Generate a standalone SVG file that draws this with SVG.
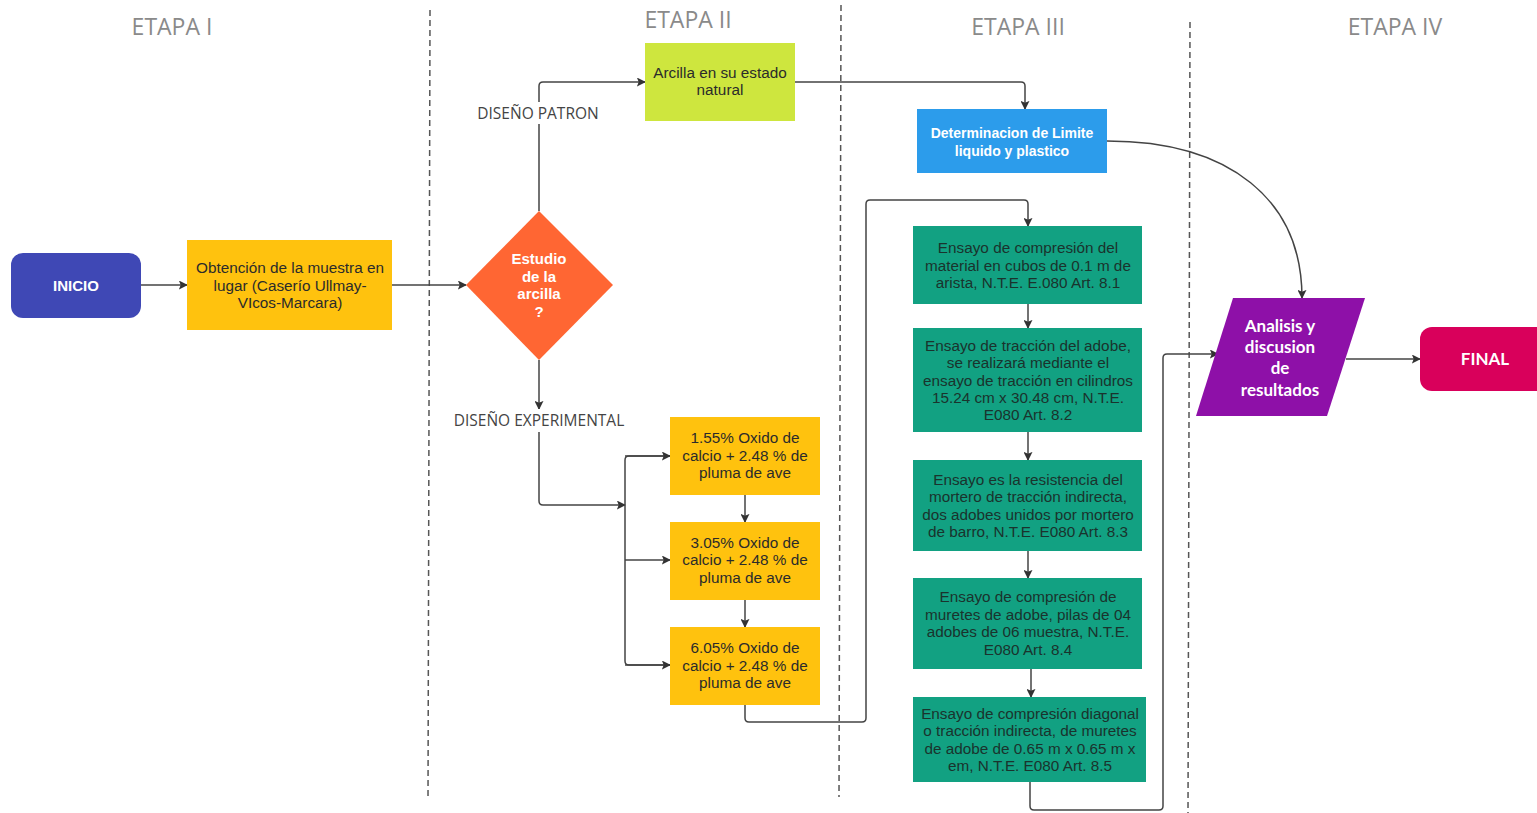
<svg xmlns="http://www.w3.org/2000/svg" width="1537" height="813" viewBox="0 0 1537 813">
<defs>
<marker id="arr" viewBox="0 0 10 10" refX="9" refY="5" markerWidth="9" markerHeight="9" markerUnits="userSpaceOnUse" orient="auto">
<path d="M0,0 L10,5 L0,10 L2,5 Z" fill="#333"/>
</marker>
<style>
.stage{font-family:"Open Sans","Liberation Sans",sans-serif;font-size:23px;fill:#8a8a8a;text-anchor:middle}
.lbl{font-family:"Open Sans","Liberation Sans",sans-serif;font-size:15.5px;fill:#444;text-anchor:middle}
.t{font-family:"Liberation Sans",Arial,sans-serif;font-size:15.3px;fill:#2b2b2b;text-anchor:middle}
.tg{font-family:"Liberation Sans",Arial,sans-serif;font-size:15.3px;fill:#1a332d;text-anchor:middle}
.tw{font-family:"Liberation Sans",Arial,sans-serif;font-size:15px;font-weight:bold;fill:#fff;text-anchor:middle}
.tl{font-family:Lato,"Liberation Sans",sans-serif;font-size:17px;font-weight:bold;fill:#fff;text-anchor:middle}
.div{stroke:#555;stroke-width:1.5;stroke-dasharray:6,4;fill:none}
.c{stroke:#444;stroke-width:1.5;fill:none;stroke-linejoin:round}
.ca{stroke:#444;stroke-width:1.5;fill:none;stroke-linejoin:round;marker-end:url(#arr)}
.yel{fill:#FFC20E}
.grn{fill:#12A182}
</style>
</defs>
<rect width="1537" height="813" fill="#fff"/>
<g id="dividers">
<line class="div" x1="430" y1="10" x2="428" y2="800"/>
<line class="div" x1="841" y1="5" x2="839" y2="797"/>
<line class="div" x1="1190" y1="22" x2="1188" y2="813"/>
</g>
<g id="stages">
<text class="stage" x="172" y="35">ETAPA I</text>
<text class="stage" x="688" y="28">ETAPA II</text>
<text class="stage" x="1018" y="35">ETAPA III</text>
<text class="stage" x="1395" y="35">ETAPA IV</text>
</g>
<g id="connectors">
<line class="ca" x1="141" y1="285" x2="187" y2="285"/>
<line class="ca" x1="392" y1="285" x2="466" y2="285"/>
<path class="ca" d="M539,211 L539,86 Q539,82 543,82 L645,82"/>
<path class="ca" d="M795,82 L1021,82 Q1025,82 1025,86 L1025,109"/>
<path class="ca" d="M1107,141 C1230,141 1302,200 1302,298"/>
<line class="ca" x1="539" y1="360" x2="539" y2="409"/>
<path class="ca" d="M539,432 L539,501 Q539,505 543,505 L625,505"/>
<path class="c" d="M670,456 L629,456 Q625,456 625,460 L625,661 Q625,665 629,665 L670,665"/>
<line class="ca" x1="625" y1="456" x2="670" y2="456"/>
<line class="ca" x1="625" y1="560" x2="670" y2="560"/>
<line class="ca" x1="625" y1="665" x2="670" y2="665"/>
<line class="ca" x1="745" y1="495" x2="745" y2="522"/>
<line class="ca" x1="745" y1="600" x2="745" y2="627"/>
<path class="ca" d="M745,705 L745,718 Q745,722 749,722 L862,722 Q866,722 866,718 L866,204 Q866,200 870,200 L1024,200 Q1028,200 1028,204 L1028,226"/>
<line class="ca" x1="1028" y1="304" x2="1028" y2="328"/>
<line class="ca" x1="1028" y1="432" x2="1028" y2="460"/>
<line class="ca" x1="1028" y1="551" x2="1028" y2="578"/>
<line class="ca" x1="1031" y1="669" x2="1031" y2="697"/>
<path class="ca" d="M1030,782 L1030,806 Q1030,810 1034,810 L1159,810 Q1163,810 1163,806 L1163,358 Q1163,354 1167,354 L1218,354"/>
<line class="ca" x1="1346" y1="359" x2="1420" y2="359"/>
</g>
<g id="lbl-patron">
<rect x="472" y="102" width="132" height="22" fill="#fff"/>
<text class="lbl" x="538" y="119">DISEÑO PATRON</text>
</g>
<g id="lbl-experimental">
<rect x="450" y="409" width="178" height="22" fill="#fff"/>
<text class="lbl" x="539" y="426">DISEÑO EXPERIMENTAL</text>
</g>
<g id="inicio">
<rect x="11" y="253" width="130" height="65" rx="12" fill="#3F48B5"/>
<text class="tw" x="76" y="291">INICIO</text>
</g>
<g id="obtencion">
<rect class="yel" x="187" y="240" width="205" height="90"/>
<text class="t" x="290" y="273">Obtención de la muestra en</text>
<text class="t" x="290" y="291">lugar (Caserío Ullmay-</text>
<text class="t" x="290" y="308">VIcos-Marcara)</text>
</g>
<g id="estudio">
<polygon points="539,211 613,285 539,360 466,285" fill="#FF6633"/>
<text class="tw" x="539" y="264">Estudio</text>
<text class="tw" x="539" y="282">de la</text>
<text class="tw" x="539" y="299">arcilla</text>
<text class="tw" x="539" y="317">?</text>
</g>
<g id="arcilla">
<rect x="645" y="43" width="150" height="78" fill="#CEE63E"/>
<text class="t" x="720" y="78">Arcilla en su estado</text>
<text class="t" x="720" y="95">natural</text>
</g>
<g id="determinacion">
<rect x="917" y="109" width="190" height="64" fill="#2C9CEB"/>
<text class="tw" x="1012" y="138" style="font-size:14px">Determinacion de Limite</text>
<text class="tw" x="1012" y="156" style="font-size:14px">liquido y plastico</text>
</g>
<g id="mezcla1">
<rect class="yel" x="670" y="417" width="150" height="78"/>
<text class="t" x="745" y="443">1.55% Oxido de</text>
<text class="t" x="745" y="461">calcio + 2.48 % de</text>
<text class="t" x="745" y="478">pluma de ave</text>
</g>
<g id="mezcla2">
<rect class="yel" x="670" y="522" width="150" height="78"/>
<text class="t" x="745" y="548">3.05% Oxido de</text>
<text class="t" x="745" y="565">calcio + 2.48 % de</text>
<text class="t" x="745" y="583">pluma de ave</text>
</g>
<g id="mezcla3">
<rect class="yel" x="670" y="627" width="150" height="78"/>
<text class="t" x="745" y="653">6.05% Oxido de</text>
<text class="t" x="745" y="671">calcio + 2.48 % de</text>
<text class="t" x="745" y="688">pluma de ave</text>
</g>
<g id="ensayo1">
<rect class="grn" x="913" y="226" width="229" height="78"/>
<text class="tg" x="1028" y="253">Ensayo de compresión del</text>
<text class="tg" x="1028" y="271">material en cubos de 0.1 m de</text>
<text class="tg" x="1028" y="288">arista, N.T.E. E.080 Art. 8.1</text>
</g>
<g id="ensayo2">
<rect class="grn" x="913" y="328" width="229" height="104"/>
<text class="tg" x="1028" y="351">Ensayo de tracción del adobe,</text>
<text class="tg" x="1028" y="368">se realizará mediante el</text>
<text class="tg" x="1028" y="386">ensayo de tracción en cilindros</text>
<text class="tg" x="1028" y="403">15.24 cm x 30.48 cm, N.T.E.</text>
<text class="tg" x="1028" y="420">E080 Art. 8.2</text>
</g>
<g id="ensayo3">
<rect class="grn" x="913" y="460" width="229" height="91"/>
<text class="tg" x="1028" y="485">Ensayo es la resistencia del</text>
<text class="tg" x="1028" y="502">mortero de tracción indirecta,</text>
<text class="tg" x="1028" y="520">dos adobes unidos por mortero</text>
<text class="tg" x="1028" y="537">de barro, N.T.E. E080 Art. 8.3</text>
</g>
<g id="ensayo4">
<rect class="grn" x="913" y="578" width="229" height="91"/>
<text class="tg" x="1028" y="602">Ensayo de compresión de</text>
<text class="tg" x="1028" y="620">muretes de adobe, pilas de 04</text>
<text class="tg" x="1028" y="637">adobes de 06 muestra, N.T.E.</text>
<text class="tg" x="1028" y="655">E080 Art. 8.4</text>
</g>
<g id="ensayo5">
<rect class="grn" x="913" y="697" width="233" height="85"/>
<text class="tg" x="1030" y="719">Ensayo de compresión diagonal</text>
<text class="tg" x="1030" y="736">o tracción indirecta, de muretes</text>
<text class="tg" x="1030" y="754">de adobe de 0.65 m x 0.65 m x</text>
<text class="tg" x="1030" y="771">em, N.T.E. E080 Art. 8.5</text>
</g>
<g id="analisis">
<polygon points="1233,298 1365,298 1327,416 1196,416" fill="#8E10A8"/>
<text class="tl" x="1280" y="332">Analisis y</text>
<text class="tl" x="1280" y="353">discusion</text>
<text class="tl" x="1280" y="374">de</text>
<text class="tl" x="1280" y="396">resultados</text>
</g>
<g id="final">
<rect x="1420" y="327" width="130" height="64" rx="12" fill="#D9005B"/>
<text class="tl" x="1485" y="365">FINAL</text>
</g>
</svg>
